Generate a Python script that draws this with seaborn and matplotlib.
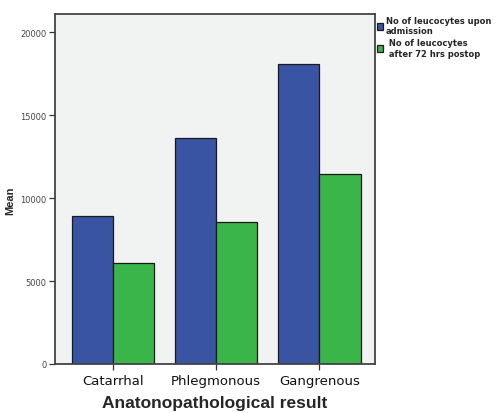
import matplotlib
matplotlib.use("Agg")
import matplotlib.pyplot as plt
import seaborn as sns
import pandas as pd

categories = ["Catarrhal", "Phlegmonous", "Gangrenous"]
series_names = ["No of leucocytes upon\nadmission", " No of leucocytes\n after 72 hrs postop"]
upon_admission = [8900, 13650, 18100]
after_72h = [6100, 8550, 11450]
yticks = [0, 5000, 10000, 15000, 20000]

df = pd.DataFrame({
    "category": categories * 2,
    "series": [series_names[0]] * 3 + [series_names[1]] * 3,
    "value": upon_admission + after_72h,
})

sns.set_theme(style="white")
plt.rcParams["font.family"] = ["DejaVu Sans"]

fig = plt.figure(figsize=(5.01, 4.14), dpi=100)
ax = fig.add_axes([55 / 501, (414 - 365) / 414, 320 / 501, 350 / 414])
ax.set_facecolor("#F1F2F2")

sns.barplot(data=df, x="category", y="value", hue="series", order=categories,
            hue_order=series_names, palette=["#3A54A4", "#3AB54A"],
            edgecolor="#1a1a1a", linewidth=0.9, width=0.8, errorbar=None,
            saturation=1, ax=ax)

ax.set_xlim(-0.56, 2.54)
ax.set_ylim(0, 21100)
ax.set_yticks(yticks)
ax.set_yticklabels([str(v) for v in yticks], fontsize=6, color="#444444")
ax.set_xticks(range(len(categories)))
ax.set_xticklabels(categories, fontsize=9.5, color="#111111")
ax.tick_params(axis="both", direction="out", length=4, width=0.9, color="#333333",
               bottom=True, left=True, pad=2)
ax.tick_params(axis="x", pad=3)

ax.set_ylabel("Mean", fontsize=8, fontweight="bold", family="Liberation Sans")
ax.yaxis.set_label_coords(-0.125, 0.47)
ax.set_xlabel("Anatonopathological result", fontsize=12.5, fontweight="bold",
              family="Liberation Sans", labelpad=6)

for s in ax.spines.values():
    s.set_visible(True)
    s.set_color("#444444")
    s.set_linewidth(1.3)

handles, labels = ax.get_legend_handles_labels()
ax.legend(handles, labels, loc="upper left", bbox_to_anchor=(1.005, 0.995),
          frameon=False, handlelength=0.8, handleheight=0.9,
          handletextpad=0.3, labelspacing=0.4, borderaxespad=0, borderpad=0,
          prop={"family": "DejaVu Sans", "weight": "bold", "size": 6})

fig.savefig("out.png", dpi=100)
